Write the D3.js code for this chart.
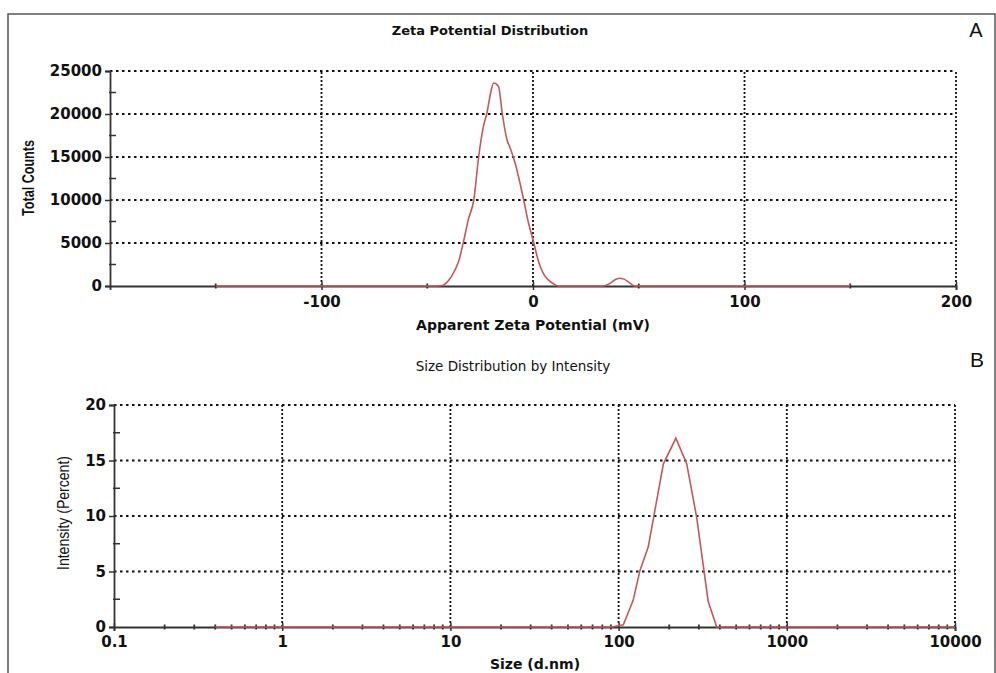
<!DOCTYPE html>
<html lang="en">
<head>
    <meta charset="UTF-8">
    <title>Zeta Potential and Size Distribution</title>
    <script src="https://d3js.org/d3.v7.min.js"></script>
    <style>
        body { margin: 0; background: #fff; }
        svg text { fill: #111; }
    </style>
</head>
<body>
    <div id="chart"></div>
    <script>
        // --- data ---
        // Panel A: zeta potential distribution
        const zetaMv = [-150, -45, -43, -40, -37, -35, -33, -30.5, -28, -25.7, -23.5, -21.7, -20, -18.6, -16.3,
            -14.5, -12.3, -10.7, -8.4, -6, -4.4, -2.1, 0.3, 2, 3.5, 5.5, 8.2, 10, 12, 33, 36, 39, 41, 43, 46, 48, 150];
        const zetaCounts = [0, 0, 50, 600, 1800, 3000, 5000, 7800, 10000, 15000, 18500, 20200, 22500, 23600, 23200,
            20000, 17000, 16000, 14250, 11800, 10000, 7300, 5100, 3400, 2200, 1200, 500, 200, 0, 0, 250, 750, 900, 800, 300, 0, 0];
        const zetaTicks = [-100, 0, 100, 200];
        const zetaMinorTicks = [-150, -50, 50, 150];
        const countTicks = [0, 5000, 10000, 15000, 20000, 25000];

        // Panel B: size distribution by intensity
        const sizeNm = [0.4, 91.3, 106.7, 122, 134, 150, 184.6, 219, 254, 291, 341, 383, 10000];
        const intensityPct = [0, 0, 0.2, 2.4, 5.1, 7.2, 14.7, 17.0, 14.7, 9.9, 2.3, 0, 0];
        const sizeTicks = [0.1, 1, 10, 100, 1000, 10000];
        const pctTicks = [0, 5, 10, 15, 20];

        const W = 996, H = 673;
        const lineColor = "#c4585c";
        const axisColor = "#333";

        const svg = d3.select("#chart")
            .append("svg")
            .attr("width", W)
            .attr("height", H);

        // outer frame
        svg.append("rect")
            .attr("x", 8).attr("y", 14)
            .attr("width", 987).attr("height", 700)
            .attr("fill", "none")
            .attr("stroke", "#555")
            .attr("stroke-width", 1.5);

        // draws gridlines, axes, ticks for a panel
        function drawPanel(cfg) {
            const g = svg.append("g");
            const x = cfg.x, y = cfg.y;
            const [x0, x1] = x.range();
            const [y0, y1] = y.range();

            // horizontal dotted grid
            g.selectAll(".hgrid")
                .data(cfg.yTicks.filter(d => d !== 0))
                .enter().append("line")
                .attr("x1", x0).attr("x2", x1)
                .attr("y1", d => y(d)).attr("y2", d => y(d))
                .attr("stroke", "#111")
                .attr("stroke-width", 1.8)
                .attr("stroke-dasharray", "2.5,3.5");

            // vertical dotted grid
            g.selectAll(".vgrid")
                .data(cfg.xGrid)
                .enter().append("line")
                .attr("x1", d => x(d)).attr("x2", d => x(d))
                .attr("y1", y0).attr("y2", y1)
                .attr("stroke", "#111")
                .attr("stroke-width", 1.8)
                .attr("stroke-dasharray", "2,2");

            // y axis
            const yAxis = g.append("g")
                .attr("transform", "translate(" + x0 + ",0)")
                .call(d3.axisLeft(y).tickValues(cfg.yTicks).tickSize(5).tickPadding(3).tickFormat(d => String(d)));
            yAxis.select(".domain").attr("stroke", axisColor).attr("stroke-width", 1.8);
            yAxis.selectAll(".tick line").attr("stroke", axisColor).attr("stroke-width", 1.5);
            yAxis.selectAll("text")
                .attr("fill", "#111")
                .style("font-family", "DejaVu Sans")
                .style("font-weight", "bold")
                .style("font-size", "15px");

            // y minor ticks
            g.selectAll(".yminor")
                .data(cfg.yMinor)
                .enter().append("line")
                .attr("x1", x0 - 1).attr("x2", x0 + 6)
                .attr("y1", d => y(d)).attr("y2", d => y(d))
                .attr("stroke", axisColor)
                .attr("stroke-width", 1.5);

            // x axis (plain hyphen for negatives, as in the original)
            const xAxis = g.append("g")
                .attr("transform", "translate(0," + y0 + ")")
                .call(d3.axisBottom(x).tickValues(cfg.xTicks).tickSize(4).tickPadding(cfg.xPad).tickFormat(d => String(d)));
            xAxis.select(".domain").attr("stroke", axisColor).attr("stroke-width", 1.8);
            xAxis.selectAll(".tick line").attr("stroke", axisColor).attr("stroke-width", 1.5).attr("y1", -4);
            xAxis.selectAll("text")
                .attr("fill", "#111")
                .style("font-family", "DejaVu Sans")
                .style("font-weight", "bold")
                .style("font-size", "15px");

            // x minor ticks
            g.selectAll(".xminor")
                .data(cfg.xMinor)
                .enter().append("line")
                .attr("x1", d => x(d)).attr("x2", d => x(d))
                .attr("y1", y0 - 2.5).attr("y2", y0 + 2.5)
                .attr("stroke", axisColor)
                .attr("stroke-width", 1.8);

            return g;
        }

        // ---------- Panel A ----------
        const xA = d3.scaleLinear().domain([-200, 200]).range([110, 956]);
        const yA = d3.scaleLinear().domain([0, 25000]).range([286, 71]);

        const countMinor = d3.range(2500, 25000, 5000);
        drawPanel({
            x: xA, y: yA,
            yTicks: countTicks,
            yMinor: countMinor,
            xTicks: zetaTicks,
            xGrid: zetaTicks,
            xMinor: zetaMinorTicks,
            xPad: 6
        });

        const zetaData = zetaMv.map((d, i) => ({ x: d, y: zetaCounts[i] }));
        svg.append("path")
            .datum(zetaData)
            .attr("fill", "none")
            .attr("stroke", lineColor)
            .attr("stroke-width", 1.6)
            .attr("d", d3.line()
                .x(d => xA(d.x))
                .y(d => yA(d.y))
                .curve(d3.curveMonotoneX));

        svg.append("text")
            .attr("x", 490).attr("y", 35)
            .attr("text-anchor", "middle")
            .style("font-family", "DejaVu Sans")
            .style("font-weight", "bold")
            .style("font-size", "13px")
            .text("Zeta Potential Distribution");

        svg.append("text")
            .attr("x", 533).attr("y", 330)
            .attr("text-anchor", "middle")
            .style("font-family", "DejaVu Sans")
            .style("font-weight", "bold")
            .style("font-size", "14px")
            .text("Apparent Zeta Potential (mV)");

        svg.append("text")
            .attr("transform", "translate(34,178) rotate(-90)")
            .attr("text-anchor", "middle")
            .attr("textLength", 76)
            .attr("lengthAdjust", "spacingAndGlyphs")
            .style("font-family", "Liberation Sans")
            .style("font-weight", "bold")
            .style("font-size", "16px")
            .text("Total Counts");

        svg.append("text")
            .attr("x", 976).attr("y", 37)
            .attr("text-anchor", "middle")
            .style("font-family", "Liberation Sans")
            .style("font-size", "20px")
            .text("A");

        // ---------- Panel B ----------
        const xB = d3.scaleLog().domain([0.1, 10000]).range([114, 955]);
        const yB = d3.scaleLinear().domain([0, 20]).range([627, 405]);

        const pctMinor = [2.5, 7.5, 12.5, 17.5];
        const sizeMinor = [];
        sizeTicks.slice(0, -1).forEach(function (dec) {
            [2, 3, 4, 5, 6, 7, 8, 9].forEach(function (m) { sizeMinor.push(dec * m); });
        });

        drawPanel({
            x: xB, y: yB,
            yTicks: pctTicks,
            yMinor: pctMinor,
            xTicks: sizeTicks,
            xGrid: sizeTicks.slice(1),
            xMinor: sizeMinor,
            xPad: 5
        });

        const sizeData = sizeNm.map((d, i) => ({ x: d, y: intensityPct[i] }));
        svg.append("path")
            .datum(sizeData)
            .attr("fill", "none")
            .attr("stroke", lineColor)
            .attr("stroke-width", 1.6)
            .attr("d", d3.line()
                .x(d => xB(d.x))
                .y(d => yB(d.y)));

        svg.append("text")
            .attr("x", 513).attr("y", 371)
            .attr("text-anchor", "middle")
            .style("font-family", "DejaVu Sans")
            .style("font-size", "13.5px")
            .text("Size Distribution by Intensity");

        svg.append("text")
            .attr("x", 535).attr("y", 669)
            .attr("text-anchor", "middle")
            .style("font-family", "DejaVu Sans")
            .style("font-weight", "bold")
            .style("font-size", "14px")
            .text("Size (d.nm)");

        svg.append("text")
            .attr("transform", "translate(69,513) rotate(-90)")
            .attr("text-anchor", "middle")
            .attr("textLength", 114)
            .attr("lengthAdjust", "spacingAndGlyphs")
            .style("font-family", "Liberation Sans")
            .style("font-size", "16px")
            .text("Intensity (Percent)");

        svg.append("text")
            .attr("x", 977).attr("y", 367)
            .attr("text-anchor", "middle")
            .style("font-family", "Liberation Sans")
            .style("font-size", "21px")
            .text("B");
    </script>
</body>
</html>
